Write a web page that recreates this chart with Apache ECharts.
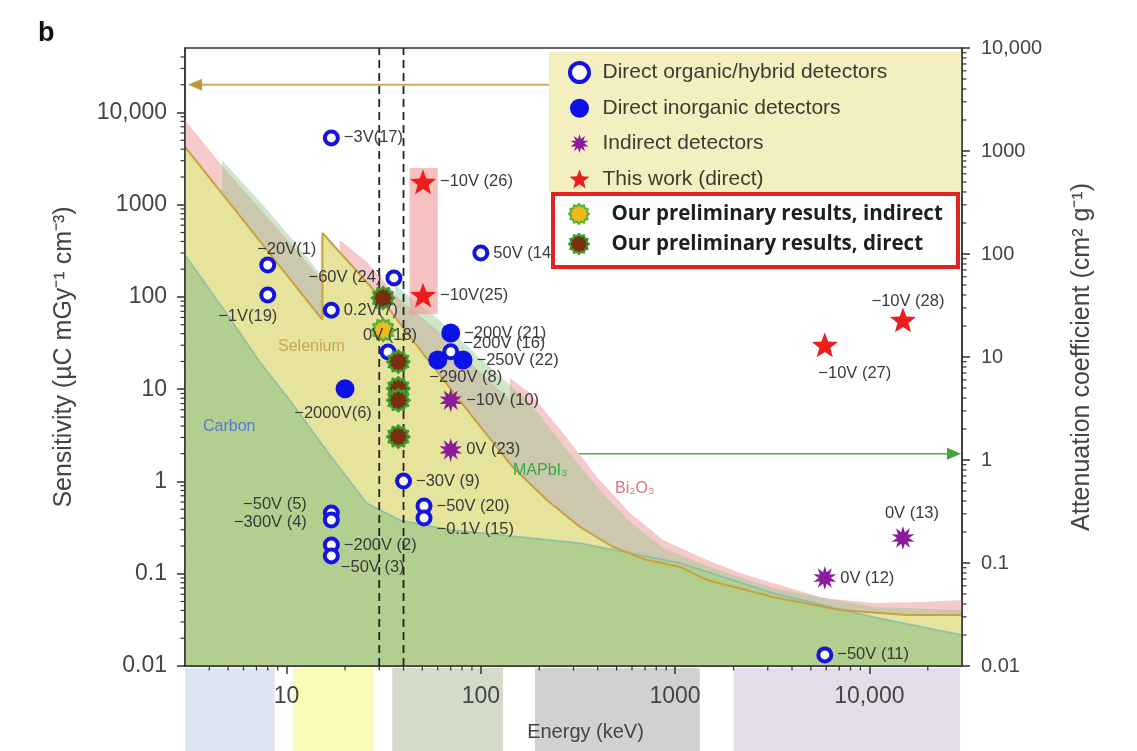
<!DOCTYPE html>
<html>
<head>
<meta charset="utf-8">
<script src="https://cdn.jsdelivr.net/npm/echarts@6/dist/echarts.min.js"></script>
<style>
  html, body { margin: 0; padding: 0; background: #fff; }
  #chart { width: 1137px; height: 751px; }
</style>
</head>
<body>
<div id="chart"></div>
<script>
// ---------- axes ----------
const energyRange = [3, 30000];          // keV
const sensitivityRange = [0.01, 50000];  // µC mGy^-1 cm^-3 (left)
const attenuationRange = [0.01, 10000];  // cm^2 g^-1 (right)
const dashedEnergies = [30, 40];

// ---------- detector points: [energy keV, sensitivity, label] ----------
const organicDetectors = [
  [17, 5300, '−3V(17)'],
  [8, 222, '−20V(1)'],
  [8, 105, '−1V(19)'],
  [17, 72, '0.2V(7)'],
  [35.7, 161, '−60V (24)'],
  [33.3, 25.3, '0V (18)'],
  [100, 300, '50V (14)'],
  [70, 25.5, '−200V (16)'],
  [40, 1.01, '−30V (9)'],
  [17, 0.456, '−50V (5)'],
  [17, 0.383, '−300V (4)'],
  [17, 0.205, '−200V (2)'],
  [17, 0.156, '−50V (3)'],
  [51, 0.542, '−50V (20)'],
  [51, 0.402, '−0.1V (15)'],
  [5900, 0.0132, '−50V (11)']
];
const inorganicDetectors = [
  [20, 10.1, '−2000V(6)'],
  [70, 40.7, '−200V (21)'],
  [81, 20.7, '−250V (22)'],
  [60, 20.7, '−290V (8)']
];
const indirectDetectors = [
  [70, 7.6, '−10V (10)'],
  [70, 2.2, '0V (23)'],
  [5900, 0.09, '0V (12)'],
  [14900, 0.244, '0V (13)']
];
const thisWorkDetectors = [
  [50.4, 1770, '−10V (26)'],
  [50.4, 105, '−10V(25)'],
  [5900, 30.2, '−10V (27)'],
  [14900, 56.4, '−10V (28)']
];
const prelimIndirect = [[31.4, 43.9]];
const prelimDirect = [[31.4, 97.5], [37.6, 19.9], [37.6, 10.2], [37.6, 7.6], [37.6, 3.06]];
// energy / sensitivity span of this work's measurements [e0, s0, e1, s1]
const thisWorkSpan = [43, 2500, 60, 65];

// ---------- mass attenuation curves: [energy keV, cm^2 g^-1] ----------
const bi2o3Curve = [
  [3, 2000], [4.65, 720], [11.7, 100], [15.2, 55], [18.8, 25.6], [18.8, 137],
  [25.9, 83.6], [38.4, 35.8], [59.5, 18.3], [99, 7.15], [141, 3.82], [141, 6.25],
  [179, 4.47], [265, 1.83], [396, 0.684], [586, 0.306], [867, 0.167], [1460, 0.107],
  [2160, 0.080], [3190, 0.064], [5770, 0.0457], [10400, 0.0409], [18900, 0.0418], [30000, 0.0437]
];
const mapbi3Curve = [
  [3, 585], [4.65, 239], [4.65, 818], [7.56, 299], [11.7, 114], [15.0, 62.5], [15.0, 143],
  [36.2, 23.9], [36.2, 50], [59.5, 23.9], [99, 9.78], [141, 5.35], [179, 3.58], [265, 1.40],
  [396, 0.547], [586, 0.25], [867, 0.14], [1460, 0.0935], [3190, 0.0572], [10400, 0.0374], [30000, 0.035]
];
const seleniumCurve = [
  [3, 1094], [15.3, 22.9], [15.3, 160], [30.3, 38.2], [41.7, 17.1], [84.9, 3.06], [146, 0.855],
  [219, 0.409], [324, 0.224], [479, 0.143], [717, 0.107], [1060, 0.0915], [1460, 0.0684],
  [3190, 0.0468], [7060, 0.035], [15600, 0.0313], [30000, 0.0313]
];
const carbonCurve = [
  [3, 98], [5.1, 23.9], [7.3, 8.9], [10.4, 3.8], [16.7, 1.12], [25.9, 0.38], [38.4, 0.26],
  [69, 0.21], [324, 0.156], [1060, 0.1], [3190, 0.051], [10400, 0.030], [30000, 0.02]
];

// ---------- energy bands under the axis and the two axis arrows ----------
const xrayBands = [[3, 8.7], [10.8, 28], [35, 130], [190, 1340], [2000, 29300]];
const sensitivityArrow = [[1000, 20000], [3.38, 20000]];
const attenuationArrow = [[150, 1.15], [27300, 1.15]];

// ---------- styling ----------
const FONT = "'Liberation Sans', Arial, Helvetica, sans-serif";
const bandColors = ['#dfe4f3', '#fbfab9', '#d4dcc9', '#d2d0d0', '#e2dde9'];
const labelPlacement = {
  '−20V(1)': { position: 'top', offset: [19, 5] },
  '−1V(19)': { position: 'bottom', offset: [-20, 0] },
  '−60V (24)': { position: 'left' },
  '0V (18)': { position: 'top', offset: [2, 4] },
  '−50V (5)': { position: 'left', offset: [-12, -9] },
  '−300V (4)': { position: 'left', offset: [-12, 3] },
  '−50V (3)': { position: 'right', offset: [-3, 12] },
  '−200V (16)': { position: 'right', offset: [0, -8] },
  '−0.1V (15)': { position: 'right', offset: [0, 11] },
  '−2000V(6)': { position: 'bottom', offset: [-12, 3] },
  '−290V (8)': { position: 'bottom', offset: [28, -5] },
  '−10V (27)': { position: 'bottom', offset: [30, 4] },
  '−10V (28)': { position: 'top', offset: [5, 6] },
  '0V (13)': { position: 'top', offset: [9, 0] }
};

function burstPath(points, inner) {
  let d = '';
  for (let i = 0; i < points * 2; i++) {
    const r = i % 2 === 0 ? 10 : 10 * inner;
    const a = Math.PI * i / points - Math.PI / 2;
    d += (i === 0 ? 'M' : 'L') + (r * Math.cos(a)).toFixed(3) + ' ' + (r * Math.sin(a)).toFixed(3) + ' ';
  }
  return 'path://' + d + 'Z';
}
const STAR = burstPath(5, 0.42);
const ASTERISK = burstPath(10, 0.5);
const SPIKY = burstPath(12, 0.8);

function fmtTick(v) {
  const n = +(+v).toPrecision(6);
  return n >= 10000 ? n.toLocaleString('en-US') : String(n);
}

function pointSeries(name, rows, symbol, size, itemStyle) {
  return {
    name, type: 'scatter', yAxisIndex: 0, z: 6,
    symbol, symbolSize: size, symbolKeepAspect: true,
    itemStyle: Object.assign({ opacity: 1 }, itemStyle),
    label: {
      show: true, position: 'right', distance: 4, fontSize: 16.5, color: '#3a3a3a', fontFamily: FONT,
      formatter: p => p.value[2] || ''
    },
    emphasis: { disabled: true },
    data: rows.map(r => ({ value: r, label: labelPlacement[r[2]] }))
  };
}

function curveFill(name, data, color) {
  return {
    name, type: 'line', yAxisIndex: 1, z: 2, data, symbol: 'none', showSymbol: false,
    lineStyle: { width: 0 }, areaStyle: { color, opacity: 1, origin: 'start' }, silent: true
  };
}

const axisCommon = {
  axisLine: { show: true, lineStyle: { color: '#333', width: 1.5 } },
  axisTick: { show: true, length: 8, lineStyle: { color: '#333', width: 1.5 } },
  splitLine: { show: false }
};

const chart = echarts.init(document.getElementById('chart'));

const option = {
  animation: false,
  backgroundColor: '#fff',
  textStyle: { fontFamily: FONT },
  grid: {
    left: 185, right: 175, top: 48, bottom: 85, outerBoundsMode: 'none',
    show: true, borderColor: '#333', borderWidth: 1.5, backgroundColor: 'transparent'
  },
  xAxis: Object.assign({
    type: 'log', logBase: 10, min: energyRange[0], max: energyRange[1], z: 10,
    name: 'Energy (keV)', nameLocation: 'middle', nameGap: 56, nameMoveOverlap: false,
    nameTextStyle: { fontSize: 20, color: '#444', fontFamily: FONT, padding: [0, 0, 0, 24] },
    axisLabel: { fontSize: 23, color: '#444', margin: 19, showMinLabel: false, showMaxLabel: false, formatter: fmtTick, fontFamily: FONT }
  }, axisCommon),
  yAxis: [Object.assign({
    type: 'log', logBase: 10, min: sensitivityRange[0], max: sensitivityRange[1], position: 'left', z: 10,
    name: 'Sensitivity (µC mGy⁻¹ cm⁻³)', nameLocation: 'middle', nameGap: 108, nameRotate: 90, nameMoveOverlap: false,
    nameTextStyle: { fontSize: 25, color: '#444', fontFamily: FONT },
    axisLabel: { fontSize: 23, color: '#444', margin: 18, showMaxLabel: false, formatter: fmtTick, fontFamily: FONT }
  }, axisCommon), Object.assign({
    type: 'log', logBase: 10, min: attenuationRange[0], max: attenuationRange[1], position: 'right', z: 10,
    name: 'Attenuation coefficient (cm² g⁻¹)', nameLocation: 'middle', nameGap: 108, nameRotate: 90, nameMoveOverlap: false,
    nameTextStyle: { fontSize: 25, color: '#444', fontFamily: FONT },
    axisLabel: { fontSize: 20, color: '#444', margin: 19, formatter: fmtTick, fontFamily: FONT }
  }, axisCommon)],
  legend: [{
    data: [
      { name: 'Direct organic/hybrid detectors', itemStyle: { borderWidth: 4 } },
      'Direct inorganic detectors', 'Indirect detectors', 'This work (direct)'
    ],
    orient: 'vertical', left: 568, top: 61, itemWidth: 30, itemHeight: 19, itemGap: 13.3, padding: 0,
    selectedMode: false, z: 11,
    textStyle: { fontSize: 21, lineHeight: 22, color: '#3b3b30', fontFamily: FONT, padding: [0, 0, 0, 3] }
  }, {
    data: ['Our preliminary results, indirect', 'Our preliminary results, direct'],
    orient: 'vertical', left: 568, top: 203, itemWidth: 39, itemHeight: 20, itemGap: 8, padding: 0,
    selectedMode: false, z: 11,
    textStyle: { fontSize: 20.5, lineHeight: 22, color: '#1e1e1e', fontWeight: 'bold', fontFamily: "'Open Sans', " + FONT, padding: [0, 0, 0, 8] }
  }],
  graphic: [
    { type: 'rect', z: 9, shape: { x: 549, y: 52, width: 413, height: 141 }, style: { fill: '#f4efc1' } },
    { type: 'rect', z: 9, shape: { x: 553, y: 194, width: 405, height: 73 }, style: { fill: '#ffffff', stroke: '#e3231f', lineWidth: 4 } },
    { type: 'text', z: 9, left: 38, top: 20, style: { text: 'b', font: "bold 27px " + FONT, fill: '#111' } },
    { type: 'text', z: 7, left: 278, top: 339, style: { text: 'Selenium', font: "16px " + FONT, fill: 'rgba(196,158,70,0.9)' } },
    { type: 'text', z: 7, left: 203, top: 419, style: { text: 'Carbon', font: "16px " + FONT, fill: '#5a78d2' } },
    { type: 'text', z: 7, left: 513, top: 463, style: { text: 'MAPbI₃', font: "16px " + FONT, fill: '#3aa845' } },
    { type: 'text', z: 7, left: 615, top: 481, style: { text: 'Bi₂O₃', font: "16px " + FONT, fill: '#e3707e' } }
  ],
  series: [
    // energy bands below the axis
    {
      type: 'custom', z: 1, clip: false, silent: true, yAxisIndex: 0,
      encode: { x: [0, 1] },
      data: xrayBands,
      renderItem: (params, api) => {
        const a = api.coord([api.value(0), sensitivityRange[0]]);
        const b = api.coord([api.value(1), sensitivityRange[0]]);
        const y0 = a[1] + 2;
        return { type: 'rect', shape: { x: a[0], y: y0, width: b[0] - a[0], height: api.getHeight() - y0 }, style: { fill: bandColors[params.dataIndex] } };
      }
    },
    // arrow pointing to the attenuation axis (under the curves)
    {
      type: 'line', yAxisIndex: 1, z: 1, silent: true, showSymbol: true,
      lineStyle: { color: '#4fae4a', width: 1.6 }, itemStyle: { color: '#3da63a', opacity: 1 },
      data: [
        { value: attenuationArrow[0], symbol: 'none' },
        { value: attenuationArrow[1], symbol: 'triangle', symbolSize: [12, 14], symbolRotate: -90 }
      ]
    },
    curveFill('Bi2O3', bi2o3Curve, '#f6c9cb'),
    curveFill('MAPbI3', mapbi3Curve, 'rgba(150,200,140,0.45)'),
    curveFill('Selenium', seleniumCurve, '#e6e49c'),
    curveFill('Carbon', carbonCurve, '#b3cf90'),
    {
      type: 'line', yAxisIndex: 1, z: 3, silent: true, symbol: 'none', showSymbol: false,
      data: carbonCurve, lineStyle: { color: 'rgba(115,182,175,0.7)', width: 1.6 }
    },
    {
      type: 'line', yAxisIndex: 1, z: 3, silent: true, symbol: 'none', showSymbol: false,
      data: seleniumCurve, lineStyle: { color: '#c9a13f', width: 2 }
    },
    // arrow pointing to the sensitivity axis
    {
      type: 'line', yAxisIndex: 0, z: 3, silent: true, showSymbol: true,
      lineStyle: { color: 'rgba(196,156,60,0.85)', width: 2 }, itemStyle: { color: 'rgba(190,148,50,0.95)', opacity: 1 },
      data: [
        { value: sensitivityArrow[0], symbol: 'none' },
        { value: sensitivityArrow[1], symbol: 'triangle', symbolSize: [12, 14], symbolRotate: 90 }
      ]
    },
    // shaded span of this work
    {
      type: 'custom', yAxisIndex: 0, z: 3, silent: true, encode: { x: [0, 2], y: [1, 3] },
      data: [thisWorkSpan],
      renderItem: (params, api) => {
        const p0 = api.coord([api.value(0), api.value(1)]);
        const p1 = api.coord([api.value(2), api.value(3)]);
        return { type: 'rect', shape: { x: p0[0], y: p0[1], width: p1[0] - p0[0], height: p1[1] - p0[1] }, style: { fill: 'rgba(242,150,150,0.6)' } };
      }
    },
    // dashed energy markers
    {
      type: 'custom', yAxisIndex: 0, z: 4, silent: true, encode: { x: 0, y: 1 },
      data: dashedEnergies.map(e => [e, sensitivityRange[0]]),
      renderItem: (params, api) => {
        const b = api.coord([api.value(0), sensitivityRange[0]]);
        const t = api.coord([api.value(0), sensitivityRange[1]]);
        return { type: 'line', shape: { x1: b[0], y1: b[1], x2: t[0], y2: t[1] }, style: { stroke: '#222', lineWidth: 1.8, lineDash: [8, 5] } };
      }
    },
    // minor ticks on the energy and sensitivity axes
    {
      type: 'custom', yAxisIndex: 0, z: 6, silent: true, clip: false, encode: { x: 0, y: 1 },
      data: [[energyRange[0], sensitivityRange[0]]],
      renderItem: (params, api) => {
        const kids = [];
        const st = { stroke: '#333', lineWidth: 1.2 };
        for (let k = 0; k <= 4; k++) for (let m = 2; m <= 9; m++) {
          const e = m * Math.pow(10, k);
          if (e <= energyRange[0] || e >= energyRange[1]) continue;
          const p = api.coord([e, sensitivityRange[0]]);
          kids.push({ type: 'line', shape: { x1: p[0], y1: p[1], x2: p[0], y2: p[1] + 4.5 }, style: st });
        }
        for (let k = -2; k <= 4; k++) for (let m = 2; m <= 9; m++) {
          const v = m * Math.pow(10, k);
          if (v >= sensitivityRange[1]) continue;
          const p = api.coord([energyRange[0], v]);
          kids.push({ type: 'line', shape: { x1: p[0] - 4.5, y1: p[1], x2: p[0], y2: p[1] }, style: st });
        }
        return { type: 'group', children: kids };
      }
    },
    // minor ticks on the attenuation axis
    {
      type: 'custom', yAxisIndex: 1, z: 6, silent: true, clip: false, encode: { x: 0, y: 1 },
      data: [[energyRange[1], attenuationRange[0]]],
      renderItem: (params, api) => {
        const kids = [];
        for (let k = -2; k <= 3; k++) for (let m = 2; m <= 9; m++) {
          const v = m * Math.pow(10, k);
          const p = api.coord([energyRange[1], v]);
          kids.push({ type: 'line', shape: { x1: p[0], y1: p[1], x2: p[0] + 4.5, y2: p[1] }, style: { stroke: '#333', lineWidth: 1.2 } });
        }
        return { type: 'group', children: kids };
      }
    },
    pointSeries('Direct organic/hybrid detectors', organicDetectors, 'circle', 13,
      { color: '#ffffff', borderColor: '#1414e0', borderWidth: 4 }),
    pointSeries('Direct inorganic detectors', inorganicDetectors, 'circle', 19,
      { color: '#0c12e6' }),
    pointSeries('Indirect detectors', indirectDetectors, ASTERISK, 24,
      { color: '#8a1c9c' }),
    pointSeries('This work (direct)', thisWorkDetectors, STAR, 26,
      { color: '#ee1c1c' }),
    pointSeries('Our preliminary results, indirect', prelimIndirect, SPIKY, 22,
      { color: '#f2b81c', borderColor: '#57b13a', borderWidth: 2.5 }),
    pointSeries('Our preliminary results, direct', prelimDirect, SPIKY, 22,
      { color: '#7a2e12', borderColor: '#3f9a2f', borderWidth: 2.5 })
  ]
};

chart.setOption(option);
</script>
</body>
</html>
